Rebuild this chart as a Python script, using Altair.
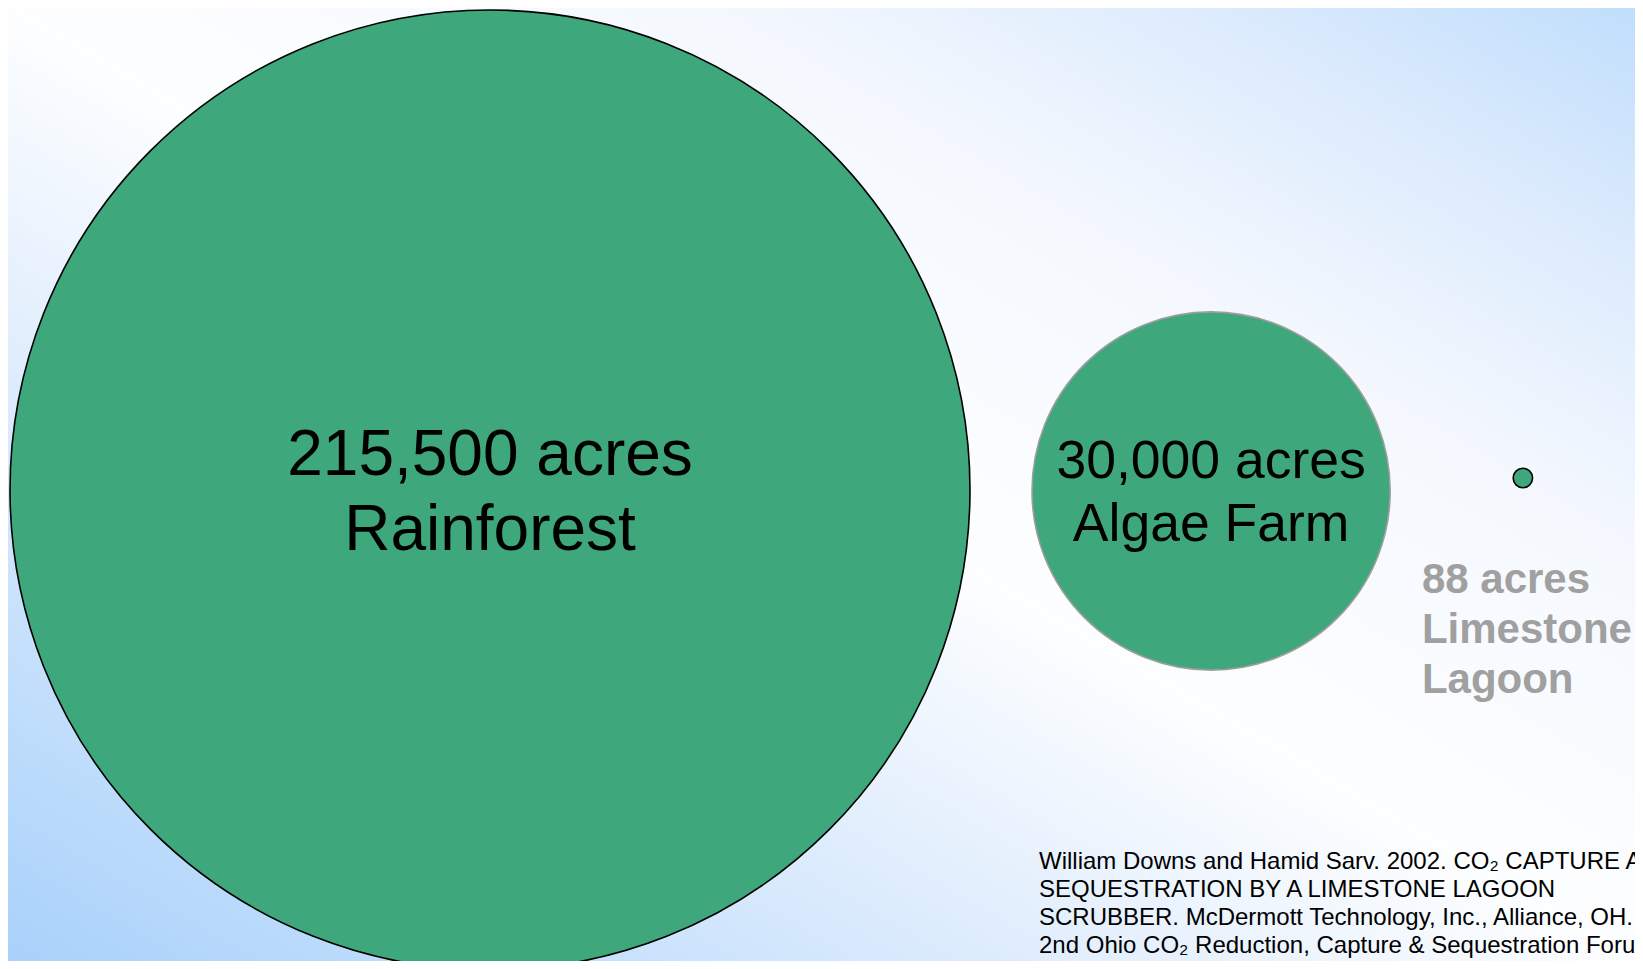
import math
import altair as alt
import pandas as pd

# ---- data ----
names = ["Rainforest", "Algae Farm", "Limestone Lagoon"]
acres = [215500, 30000, 88]
amount_labels = ["215,500 acres", "30,000 acres", "88 acres"]
name_labels = ["Rainforest", "Algae Farm", "Limestone\nLagoon"]
citation_lines = [
    "William Downs and Hamid Sarv. 2002. CO\u2082 CAPTURE AND",
    "SEQUESTRATION BY A LIMESTONE LAGOON",
    "SCRUBBER. McDermott Technology, Inc., Alliance, OH.",
    "2nd Ohio CO\u2082 Reduction, Capture & Sequestration Forum",
]

# ---- layout (pixels of the drawing area) ----
W, H = 1627, 953
MAX_D = 960.0
left_edge = 2.0
gaps = [62.0, 123.0]
center_y = [482.0, 483.0, 470.0]

diam = [MAX_D * math.sqrt(a / max(acres)) for a in acres]
center_x = []
pos = left_edge
for i, d in enumerate(diam):
    center_x.append(pos + d / 2)
    pos += d + (gaps[i] if i < len(gaps) else 0)

circles = pd.DataFrame({"name": names, "acres": acres, "cx": center_x, "cy": center_y})

xs = alt.Scale(domain=[0, W], range=[0, W])
ys = alt.Scale(domain=[0, H], range=[0, H])

bg = alt.Chart(alt.Data(values=[{}])).mark_rect(
    clip=True,
    color=alt.LinearGradient(
        gradient="linear",
        x1=0, y1=1, x2=1, y2=0,
        stops=[
            alt.GradientStop(color="#A9D1FA", offset=0.0),
            alt.GradientStop(color="#C5E0FC", offset=0.17),
            alt.GradientStop(color="#E5F0FD", offset=0.35),
            alt.GradientStop(color="#FDFEFF", offset=0.5),
            alt.GradientStop(color="#F4F8FE", offset=0.72),
            alt.GradientStop(color="#DCEBFD", offset=0.87),
            alt.GradientStop(color="#C0DEFC", offset=1.0),
        ],
    ),
).encode(x=alt.value(0), x2=alt.value(W), y=alt.value(0), y2=alt.value(H))

dots = alt.Chart(circles).mark_circle(
    clip=True, opacity=1, fill="#3EA77B", strokeWidth=1.6
).encode(
    x=alt.X("cx:Q", scale=xs, axis=None),
    y=alt.Y("cy:Q", scale=ys, axis=None),
    size=alt.Size("acres:Q", scale=alt.Scale(domain=[0, max(acres)], range=[0, MAX_D ** 2]), legend=None),
    stroke=alt.Stroke("name:N", scale=alt.Scale(domain=names, range=["#000000", "#9E9E9E", "#000000"]), legend=None),
)

def label_layer(i, dx, dy, size, lh, align, color, weight):
    df = pd.DataFrame({
        "x": [center_x[i] + dx],
        "y": [center_y[i] + dy],
        "t": [amount_labels[i] + "\n" + name_labels[i]],
    })
    return alt.Chart(df).mark_text(
        clip=True, align=align, baseline="alphabetic", fontSize=size, lineHeight=lh,
        lineBreak="\n", font="Liberation Sans", color=color, fontWeight=weight,
    ).encode(
        x=alt.X("x:Q", scale=xs, axis=None),
        y=alt.Y("y:Q", scale=ys, axis=None),
        text="t:N",
    )

big_lbl = label_layer(0, 0, -15, 64, 75, "center", "#000000", "normal")
alg_lbl = label_layer(1, 0, -13, 53.5, 63, "center", "#000000", "normal")
lim_lbl = label_layer(2, -101, 115, 42, 50, "left", "#A0A0A0", "bold")

cite_df = pd.DataFrame({"x": [1031], "y": [861], "t": ["\n".join(citation_lines)]})
cite = alt.Chart(cite_df).mark_text(
    clip=True, align="left", baseline="alphabetic", fontSize=24, lineHeight=28,
    lineBreak="\n", font="Liberation Sans", color="#000000",
).encode(
    x=alt.X("x:Q", scale=xs, axis=None),
    y=alt.Y("y:Q", scale=ys, axis=None),
    text="t:N",
)

chart = alt.layer(bg, dots, big_lbl, alg_lbl, lim_lbl, cite).properties(
    width=W, height=H,
    autosize=alt.AutoSizeParams(type="none"),
    padding=0,
).configure_view(stroke=None).configure(background="#FFFFFF")

chart.save("out.html", embed_options={"renderer": "svg", "actions": False})
